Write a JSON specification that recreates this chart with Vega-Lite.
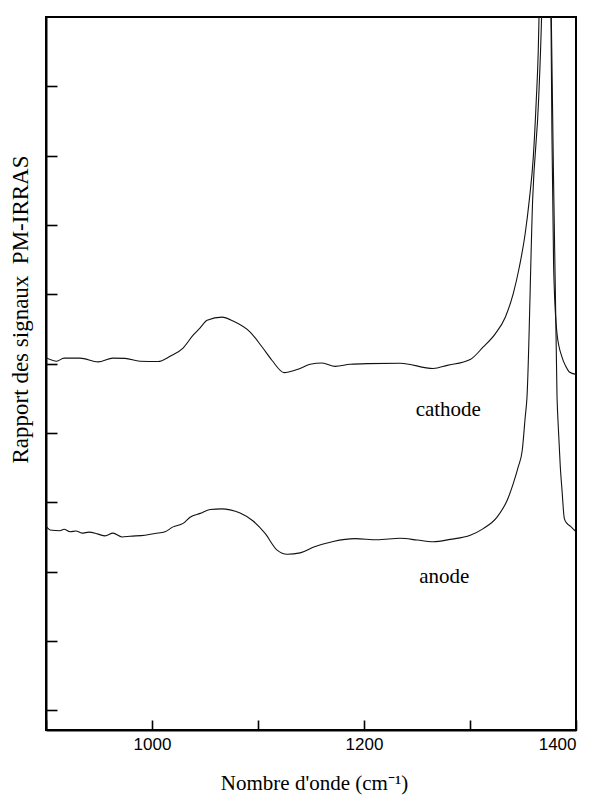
{
  "$schema": "https://vega.github.io/schema/vega-lite/v6.json",
  "width": 530,
  "height": 713,
  "autosize": {"type": "none"},
  "padding": {"left": 46, "top": 17, "right": 23, "bottom": 67},
  "background": "white",
  "config": {"view": {"stroke": "black", "strokeWidth": 2}},
  "datasets": {
    "spectra": [
      {"electrode": "cathode", "wavenumber": 900, "signal": 10.17},
      {"electrode": "cathode", "wavenumber": 910.1, "signal": 10.07},
      {"electrode": "cathode", "wavenumber": 917, "signal": 10.16},
      {"electrode": "cathode", "wavenumber": 932.1, "signal": 10.16},
      {"electrode": "cathode", "wavenumber": 949.1, "signal": 10.05},
      {"electrode": "cathode", "wavenumber": 963.2, "signal": 10.16},
      {"electrode": "cathode", "wavenumber": 974.6, "signal": 10.15},
      {"electrode": "cathode", "wavenumber": 988.7, "signal": 10.07},
      {"electrode": "cathode", "wavenumber": 1005.7, "signal": 10.06},
      {"electrode": "cathode", "wavenumber": 1017, "signal": 10.21},
      {"electrode": "cathode", "wavenumber": 1029.3, "signal": 10.45},
      {"electrode": "cathode", "wavenumber": 1038.8, "signal": 10.82},
      {"electrode": "cathode", "wavenumber": 1045.4, "signal": 11.03},
      {"electrode": "cathode", "wavenumber": 1052, "signal": 11.25},
      {"electrode": "cathode", "wavenumber": 1066.1, "signal": 11.34},
      {"electrode": "cathode", "wavenumber": 1076.5, "signal": 11.23},
      {"electrode": "cathode", "wavenumber": 1092.6, "signal": 10.91},
      {"electrode": "cathode", "wavenumber": 1103.9, "signal": 10.48},
      {"electrode": "cathode", "wavenumber": 1113.3, "signal": 10.09},
      {"electrode": "cathode", "wavenumber": 1124.7, "signal": 9.74},
      {"electrode": "cathode", "wavenumber": 1136.9, "signal": 9.83},
      {"electrode": "cathode", "wavenumber": 1149.2, "signal": 9.98},
      {"electrode": "cathode", "wavenumber": 1160.5, "signal": 10.02},
      {"electrode": "cathode", "wavenumber": 1172.8, "signal": 9.92},
      {"electrode": "cathode", "wavenumber": 1187, "signal": 9.98},
      {"electrode": "cathode", "wavenumber": 1203, "signal": 10.0},
      {"electrode": "cathode", "wavenumber": 1234.2, "signal": 10.01},
      {"electrode": "cathode", "wavenumber": 1265.3, "signal": 9.86},
      {"electrode": "cathode", "wavenumber": 1278.5, "signal": 9.95},
      {"electrode": "cathode", "wavenumber": 1300.2, "signal": 10.12},
      {"electrode": "cathode", "wavenumber": 1312.5, "signal": 10.48},
      {"electrode": "cathode", "wavenumber": 1323.8, "signal": 10.86},
      {"electrode": "cathode", "wavenumber": 1333.3, "signal": 11.34},
      {"electrode": "cathode", "wavenumber": 1340.8, "signal": 12.02},
      {"electrode": "cathode", "wavenumber": 1346.5, "signal": 12.78},
      {"electrode": "cathode", "wavenumber": 1352.1, "signal": 13.76},
      {"electrode": "cathode", "wavenumber": 1355.9, "signal": 14.71},
      {"electrode": "cathode", "wavenumber": 1359.7, "signal": 15.95},
      {"electrode": "cathode", "wavenumber": 1362.5, "signal": 17.59},
      {"electrode": "cathode", "wavenumber": 1364.4, "signal": 19.03},
      {"electrode": "cathode", "wavenumber": 1365.1, "signal": 19.98},
      {"electrode": "cathode", "wavenumber": 1371, "signal": 30},
      {"electrode": "cathode", "wavenumber": 1376.4, "signal": 20},
      {"electrode": "cathode", "wavenumber": 1377.3, "signal": 16.6},
      {"electrode": "cathode", "wavenumber": 1378.9, "signal": 12.78},
      {"electrode": "cathode", "wavenumber": 1382.1, "signal": 10.86},
      {"electrode": "cathode", "wavenumber": 1386.8, "signal": 10.19},
      {"electrode": "cathode", "wavenumber": 1389.9, "signal": 9.95},
      {"electrode": "cathode", "wavenumber": 1393.7, "signal": 9.76},
      {"electrode": "cathode", "wavenumber": 1400, "signal": 9.69},
      {"electrode": "anode", "wavenumber": 900, "signal": 5.31},
      {"electrode": "anode", "wavenumber": 903.8, "signal": 5.2},
      {"electrode": "anode", "wavenumber": 913.2, "signal": 5.18},
      {"electrode": "anode", "wavenumber": 917, "signal": 5.22},
      {"electrode": "anode", "wavenumber": 922.7, "signal": 5.15},
      {"electrode": "anode", "wavenumber": 928.3, "signal": 5.17},
      {"electrode": "anode", "wavenumber": 934, "signal": 5.11},
      {"electrode": "anode", "wavenumber": 940.6, "signal": 5.14},
      {"electrode": "anode", "wavenumber": 949.1, "signal": 5.08},
      {"electrode": "anode", "wavenumber": 955.7, "signal": 5.03},
      {"electrode": "anode", "wavenumber": 963.2, "signal": 5.11},
      {"electrode": "anode", "wavenumber": 971.7, "signal": 5.0},
      {"electrode": "anode", "wavenumber": 979.3, "signal": 5.02},
      {"electrode": "anode", "wavenumber": 993.4, "signal": 5.05},
      {"electrode": "anode", "wavenumber": 1002.9, "signal": 5.1},
      {"electrode": "anode", "wavenumber": 1012.3, "signal": 5.15},
      {"electrode": "anode", "wavenumber": 1019.9, "signal": 5.29},
      {"electrode": "anode", "wavenumber": 1029.3, "signal": 5.39},
      {"electrode": "anode", "wavenumber": 1035.9, "signal": 5.57},
      {"electrode": "anode", "wavenumber": 1045.4, "signal": 5.68},
      {"electrode": "anode", "wavenumber": 1054.8, "signal": 5.79},
      {"electrode": "anode", "wavenumber": 1066.1, "signal": 5.81},
      {"electrode": "anode", "wavenumber": 1073.7, "signal": 5.78},
      {"electrode": "anode", "wavenumber": 1083.1, "signal": 5.69},
      {"electrode": "anode", "wavenumber": 1095.4, "signal": 5.46},
      {"electrode": "anode", "wavenumber": 1106.7, "signal": 5.1},
      {"electrode": "anode", "wavenumber": 1118, "signal": 4.62},
      {"electrode": "anode", "wavenumber": 1127.5, "signal": 4.5},
      {"electrode": "anode", "wavenumber": 1139.8, "signal": 4.54},
      {"electrode": "anode", "wavenumber": 1152, "signal": 4.7},
      {"electrode": "anode", "wavenumber": 1170.9, "signal": 4.87},
      {"electrode": "anode", "wavenumber": 1191.7, "signal": 4.95},
      {"electrode": "anode", "wavenumber": 1212.4, "signal": 4.92},
      {"electrode": "anode", "wavenumber": 1234.2, "signal": 4.96},
      {"electrode": "anode", "wavenumber": 1250.2, "signal": 4.91},
      {"electrode": "anode", "wavenumber": 1265.3, "signal": 4.86},
      {"electrode": "anode", "wavenumber": 1281.4, "signal": 4.93},
      {"electrode": "anode", "wavenumber": 1300.2, "signal": 5.05},
      {"electrode": "anode", "wavenumber": 1312.5, "signal": 5.24},
      {"electrode": "anode", "wavenumber": 1325.7, "signal": 5.58},
      {"electrode": "anode", "wavenumber": 1335.1, "signal": 6.06},
      {"electrode": "anode", "wavenumber": 1340.8, "signal": 6.54},
      {"electrode": "anode", "wavenumber": 1345.5, "signal": 7.02},
      {"electrode": "anode", "wavenumber": 1349.3, "signal": 7.5},
      {"electrode": "anode", "wavenumber": 1352.1, "signal": 8.46},
      {"electrode": "anode", "wavenumber": 1353.7, "signal": 9.0},
      {"electrode": "anode", "wavenumber": 1359.2, "signal": 14.8},
      {"electrode": "anode", "wavenumber": 1364.7, "signal": 17.59},
      {"electrode": "anode", "wavenumber": 1367.5, "signal": 19.98},
      {"electrode": "anode", "wavenumber": 1372, "signal": 28},
      {"electrode": "anode", "wavenumber": 1376.7, "signal": 20},
      {"electrode": "anode", "wavenumber": 1382.1, "signal": 9.03},
      {"electrode": "anode", "wavenumber": 1383.6, "signal": 7.99},
      {"electrode": "anode", "wavenumber": 1385.2, "signal": 7.02},
      {"electrode": "anode", "wavenumber": 1386.8, "signal": 6.35},
      {"electrode": "anode", "wavenumber": 1389, "signal": 5.53},
      {"electrode": "anode", "wavenumber": 1391.5, "signal": 5.39},
      {"electrode": "anode", "wavenumber": 1394.6, "signal": 5.31},
      {"electrode": "anode", "wavenumber": 1397.7, "signal": 5.22},
      {"electrode": "anode", "wavenumber": 1400, "signal": 5.15}
    ],
    "labels": [
      {"label": "cathode", "wavenumber": 1279.5, "signal": 8.65},
      {"label": "anode", "wavenumber": 1275.7, "signal": 3.84}
    ]
  },
  "layer": [
    {
      "data": {"name": "spectra"},
      "mark": {"type": "line", "color": "#111111", "strokeWidth": 1.1, "clip": true, "interpolate": "monotone"},
      "encoding": {
        "x": {
          "field": "wavenumber", "type": "quantitative",
          "scale": {"domain": [900, 1400], "nice": false, "zero": false},
          "axis": {
            "title": "Nombre d'onde (cm⁻¹)",
            "values": [900, 1000, 1100, 1200, 1300, 1400],
            "format": "d",
            "labelExpr": "datum.value % 200 == 0 && datum.value > 900 ? datum.label : ''",
            "tickSize": -10, "tickWidth": 1.6, "tickColor": "black",
            "domainColor": "black", "domainWidth": 2, "grid": false,
            "labelFont": "Liberation Sans", "labelFontSize": 17, "labelColor": "black",
            "labelPadding": 16, "labelBaseline": "top",
            "titleFont": "Liberation Serif", "titleFontSize": 21, "titleFontWeight": "normal",
            "titleColor": "black", "titleY": 59, "titleX": 268, "titleBaseline": "alphabetic"
          }
        },
        "y": {
          "field": "signal", "type": "quantitative",
          "scale": {"domain": [-0.57, 20], "nice": false, "zero": false},
          "axis": {
            "title": "Rapport des signaux\u00a0\u00a0PM-IRRAS",
            "values": [0, 1, 2, 3, 4, 5, 6, 7, 8, 9, 10, 11, 12, 13, 14, 15, 16, 17, 18, 19],
            "labels": false,
            "tickSize": -11, "tickWidth": 1.6, "tickColor": "black",
            "domainColor": "black", "domainWidth": 2, "grid": false,
            "titleFont": "Liberation Serif", "titleFontSize": 23, "titleFontWeight": "normal",
            "titleColor": "black", "titleX": -26, "titleY": 292, "titleBaseline": "middle", "titleAngle": -90
          }
        },
        "detail": {"field": "electrode", "type": "nominal"}
      }
    },
    {
      "data": {"name": "labels"},
      "mark": {"type": "text", "font": "Liberation Serif", "fontSize": 21, "color": "black", "align": "center", "baseline": "middle"},
      "encoding": {
        "x": {"field": "wavenumber", "type": "quantitative", "scale": {"domain": [900, 1400], "nice": false, "zero": false}},
        "y": {"field": "signal", "type": "quantitative", "scale": {"domain": [-0.57, 20], "nice": false, "zero": false}},
        "text": {"field": "label", "type": "nominal"}
      }
    }
  ]
}
